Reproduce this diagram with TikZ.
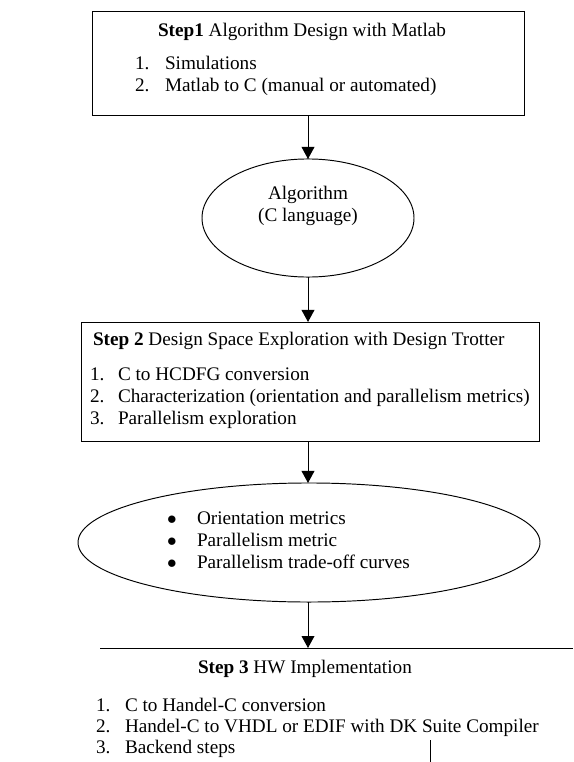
\documentclass[tikz,border=0pt]{standalone}
\usepackage{fontspec}
\setmainfont{Liberation Serif}
\usetikzlibrary{arrows.meta,shapes.geometric}
\begin{document}
\begin{tikzpicture}[x=0.625pt,y=-0.625pt,
  every node/.style={font=\fontsize{12}{14}\selectfont, inner sep=0pt, outer sep=0pt},
  frame/.style={draw, line width=0.6pt, rectangle},
  oval/.style={draw, line width=0.6pt, ellipse},
  conn/.style={line width=0.6pt, -{Triangle[length=7.5pt,width=8pt]}},
  txt/.style={anchor=base west},
  ctxt/.style={anchor=base}]
\useasboundingbox (0,0) rectangle (573,762);

% Box 1
\node[frame, minimum width=270pt, minimum height=64.4pt] (b1) at (308,63.5) {};
\node[ctxt] (b1t) at (302,37) {\textbf{Step1} Algorithm Design with Matlab};
\node[txt] (b1n1) at (135,70) {1.};
\node[txt] (b1i1) at (165,70) {Simulations};
\node[txt] (b1n2) at (135,92) {2.};
\node[txt] (b1i2) at (165,92) {Matlab to C (manual or automated)};

% Ellipse 1
\node[oval, minimum width=132.5pt, minimum height=73.8pt] (e1) at (308,218) {};
\node[ctxt] (e1a) at (308,199) {Algorithm};
\node[ctxt] (e1b) at (308,221) {(C language)};

% Box 2
\node[frame, minimum width=286.25pt, minimum height=74.4pt] (b2) at (310,381.5) {};
\node[txt] (b2t) at (93,345) {\textbf{Step 2} Design Space Exploration with Design Trotter};
\node[txt] (b2n1) at (90,380) {1.};
\node[txt] (b2i1) at (118,380) {C to HCDFG conversion};
\node[txt] (b2n2) at (90,402) {2.};
\node[txt] (b2i2) at (118,402) {Characterization (orientation and parallelism metrics)};
\node[txt] (b2n3) at (90,424) {3.};
\node[txt] (b2i3) at (118,424) {Parallelism exploration};

% Ellipse 2
\node[oval, minimum width=288.75pt, minimum height=74.4pt] (e2) at (309,542.5) {};
\node[ctxt] (e2b1) at (172,524) {$\bullet$};
\node[txt] (e2i1) at (197,524) {Orientation metrics};
\node[ctxt] (e2b2) at (172,546) {$\bullet$};
\node[txt] (e2i2) at (197,546) {Parallelism metric};
\node[ctxt] (e2b3) at (172,568) {$\bullet$};
\node[txt] (e2i3) at (197,568) {Parallelism trade-off curves};

% Box 3 (cropped)
\coordinate (b3l) at (100,648);
\coordinate (b3r) at (573,648);
\coordinate (b3top) at (308,648);
\coordinate (b3v1) at (430,740);
\coordinate (b3v2) at (430,762);
\draw[line width=0.6pt] (b3l) -- (b3r);
\draw[line width=0.6pt] (b3v1) -- (b3v2);
\node[txt] (b3t) at (198,673) {\textbf{Step 3} HW Implementation};
\node[txt] (b3n1) at (96,711) {1.};
\node[txt] (b3i1) at (125,711) {C to Handel-C conversion};
\node[txt] (b3n2) at (96,732) {2.};
\node[txt] (b3i2) at (125,732) {Handel-C to VHDL or EDIF with DK Suite Compiler};
\node[txt] (b3n3) at (96,753) {3.};
\node[txt] (b3i3) at (125,753) {Backend steps};

% Connectors
\draw[conn] (b1.south -| e1.north) -- (e1.north);
\draw[conn] (e1.south) -- (e1.south |- b2.north);
\draw[conn] (e1.south |- b2.south) -- (e1.south |- e2.north);
\draw[conn] (e1.south |- e2.south) -- (b3top);
\end{tikzpicture}
\end{document}
